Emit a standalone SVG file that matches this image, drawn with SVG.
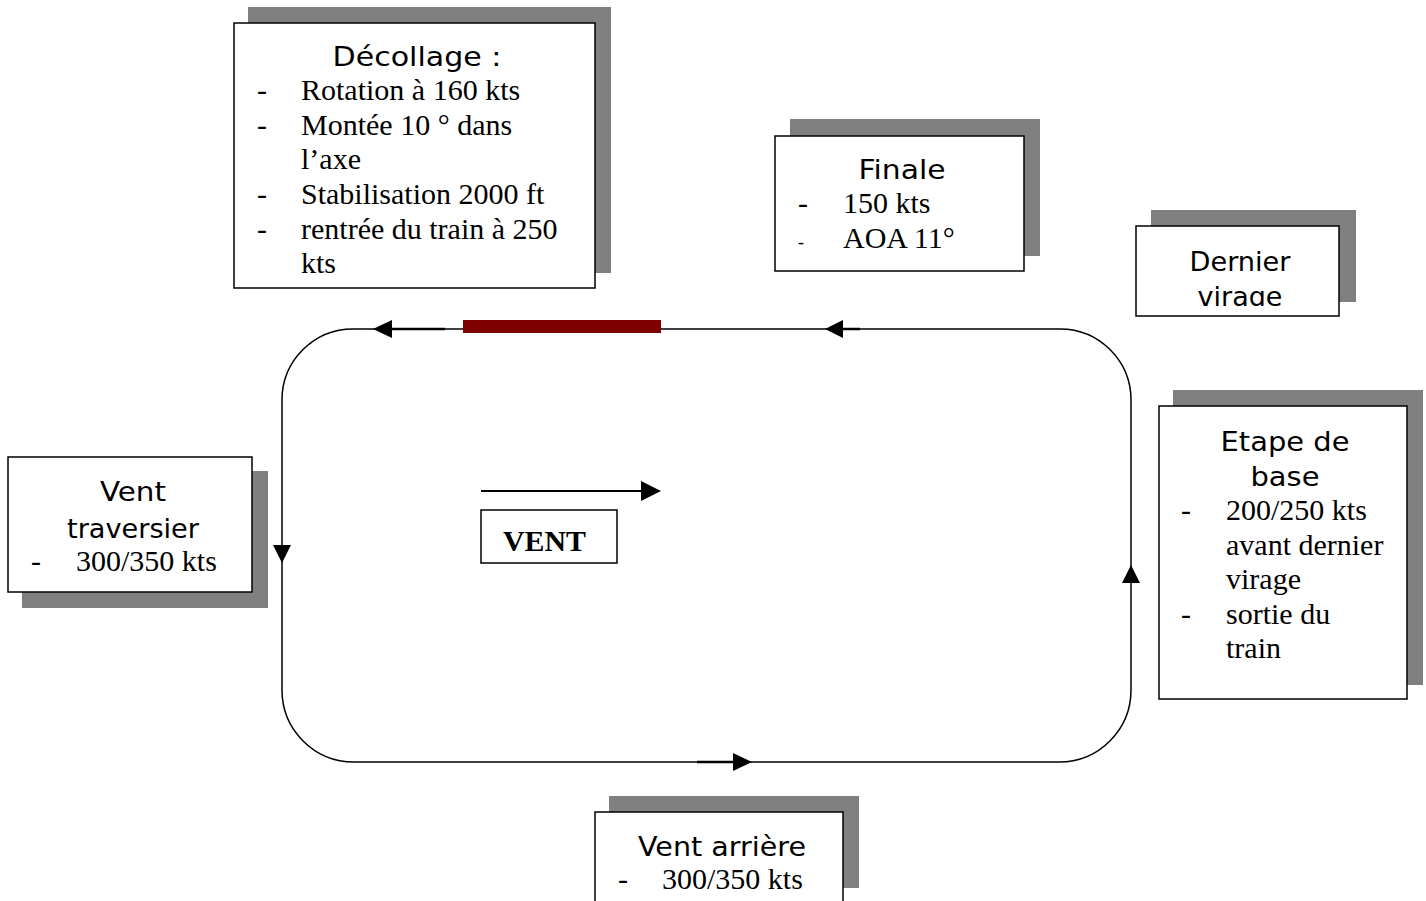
<svg xmlns="http://www.w3.org/2000/svg" width="1426" height="901" viewBox="0 0 1426 901">
<style>
.shadow{fill:#808080}
.box{fill:#fff;stroke:#000;stroke-width:1.5}
.title{font-family:"DejaVu Sans",sans-serif;font-size:27px;fill:#000;text-anchor:middle}
.serif{font-family:"Liberation Serif","Times New Roman",serif;font-size:30px;fill:#000}
.line{fill:none;stroke:#000;stroke-width:1.5}
.head{fill:#000}
</style>
<defs>
<clipPath id="clipDernier"><rect x="1136" y="226" width="203" height="80"/></clipPath>
</defs>
<rect width="1426" height="901" fill="#fff"/>

<g id="connectors">
<path class="line" d="M355,329 H1060 A71,71 0 0 1 1131,400 V690 A72,72 0 0 1 1059,762 H354 A72,72 0 0 1 282,690 V400 A71,71 0 0 1 353,329 Z"/>
<line x1="392" y1="329" x2="445" y2="329" stroke="#000" stroke-width="2.5"/>
<polygon class="head" points="373,329 392,320 392,338"/>
<line x1="843" y1="329" x2="860" y2="329" stroke="#000" stroke-width="2.5"/>
<polygon class="head" points="825,329 843,320 843,338"/>
<polygon class="head" points="282,563 273,545 291,545"/>
<polygon class="head" points="1131,565 1122,583 1140,583"/>
<line x1="697" y1="762" x2="733" y2="762" stroke="#000" stroke-width="2.5"/>
<polygon class="head" points="752,762 733,753 733,771"/>
<rect x="463" y="320" width="198" height="13" fill="#800000"/>
<line x1="481" y1="491" x2="642" y2="491" stroke="#000" stroke-width="2"/>
<polygon class="head" points="661,491 641,481 641,501"/>
</g>

<g id="vent">
<rect class="box" x="481" y="510" width="136" height="53"/>
<text x="503" y="551" font-family="Liberation Serif, serif" font-size="29" font-weight="bold" textLength="83" lengthAdjust="spacingAndGlyphs">VENT</text>
</g>

<g id="decollage">
<rect class="shadow" x="248" y="7" width="363" height="266"/>
<rect class="box" x="234" y="23" width="361" height="265"/>
<text class="title" x="417" y="66" textLength="169" lengthAdjust="spacingAndGlyphs">Décollage :</text>
<g class="serif">
<text x="257" y="100">-</text><text x="301" y="100">Rotation à 160 kts</text>
<text x="257" y="135">-</text><text x="301" y="135">Montée 10 ° dans</text>
<text x="301" y="169">l’axe</text>
<text x="257" y="204">-</text><text x="301" y="204">Stabilisation 2000 ft</text>
<text x="257" y="239">-</text><text x="301" y="239">rentrée du train à 250</text>
<text x="301" y="273">kts</text>
</g>
</g>

<g id="finale">
<rect class="shadow" x="790" y="119" width="250" height="137"/>
<rect class="box" x="775" y="136" width="249" height="135"/>
<text class="title" x="902" y="179" textLength="87" lengthAdjust="spacingAndGlyphs">Finale</text>
<g class="serif">
<text x="798" y="213">-</text><text x="843" y="213">150 kts</text>
<text x="798" y="248" font-size="18">-</text><text x="843" y="248">AOA 11°</text>
</g>
</g>

<g id="dernier-virage">
<rect class="shadow" x="1151" y="210" width="205" height="92"/>
<rect class="box" x="1136" y="226" width="203" height="90"/>
<g clip-path="url(#clipDernier)">
<text class="title" x="1240" y="271" textLength="101" lengthAdjust="spacingAndGlyphs">Dernier</text>
<text class="title" x="1240" y="306">virage</text>
</g>
</g>

<g id="etape-de-base">
<rect class="shadow" x="1173" y="390" width="250" height="295"/>
<rect class="box" x="1159" y="406" width="248" height="293"/>
<text class="title" x="1285" y="451" textLength="129" lengthAdjust="spacingAndGlyphs">Etape de</text>
<text class="title" x="1285" y="486" textLength="69" lengthAdjust="spacingAndGlyphs">base</text>
<g class="serif">
<text x="1181" y="520">-</text><text x="1226" y="520">200/250 kts</text>
<text x="1226" y="555">avant dernier</text>
<text x="1226" y="589">virage</text>
<text x="1181" y="624">-</text><text x="1226" y="624">sortie du</text>
<text x="1226" y="658">train</text>
</g>
</g>

<g id="vent-traversier">
<rect class="shadow" x="22" y="471" width="246" height="137"/>
<rect class="box" x="8" y="457" width="244" height="135"/>
<text class="title" x="133" y="501" textLength="66" lengthAdjust="spacingAndGlyphs">Vent</text>
<text class="title" x="133" y="538" textLength="132" lengthAdjust="spacingAndGlyphs">traversier</text>
<g class="serif">
<text x="31" y="571">-</text><text x="76" y="571">300/350 kts</text>
</g>
</g>

<g id="vent-arriere">
<rect class="shadow" x="609" y="796" width="250" height="92"/>
<rect class="box" x="595" y="812" width="248" height="95"/>
<text class="title" x="722" y="856" textLength="168" lengthAdjust="spacingAndGlyphs">Vent arrière</text>
<g class="serif">
<text x="618" y="889">-</text><text x="662" y="889">300/350 kts</text>
</g>
</g>
</svg>
